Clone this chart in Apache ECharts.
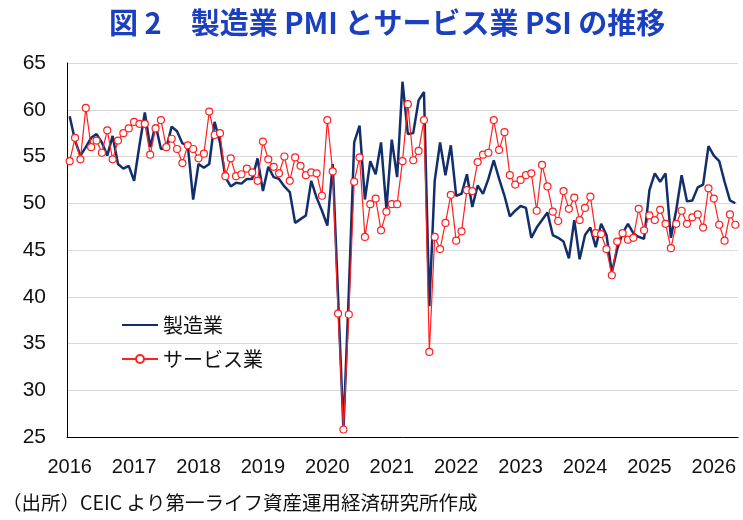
<!DOCTYPE html>
<html>
<head>
<meta charset="utf-8">
<script src="https://cdn.jsdelivr.net/npm/echarts@6/dist/echarts.min.js"></script>
<style>
  html, body { margin: 0; padding: 0; background: #fff; }
  #chart { width: 743px; height: 520px; }
</style>
</head>
<body>
<div id="chart"></div>
<script>
// monthly, 2016-01 .. 2026-05
const startYear = 2016;
const monthCount = 125;

const pmi = [
  59.3, 56.7, 55.1, 56.0, 57.0, 57.4, 56.5, 55.1, 57.2, 54.2, 53.7, 54.0,
  52.4, 56.2, 59.7, 56.0, 58.4, 55.8, 55.9, 58.2, 57.7, 56.4, 56.2, 50.4,
  54.2, 53.8, 54.2, 58.7, 56.5, 52.8, 51.8, 52.2, 52.1, 52.6, 52.6, 54.8,
  51.3, 53.9, 52.8, 52.6, 51.8, 51.2, 47.9, 48.3, 48.7, 52.4, 50.6, 49.2,
  47.6, 54.2, 40.0, 25.8, 40.5, 56.5, 58.3, 50.4, 54.5, 53.1, 56.5, 49.4,
  56.8, 52.8, 63.0, 57.4, 57.5, 61.0, 61.9, 39.0, 52.4, 56.5, 53.0, 56.2,
  50.8, 51.0, 53.1, 49.6, 51.9, 51.0, 52.6, 54.6, 52.6, 50.8, 48.6, 49.2,
  49.7, 49.5, 46.3, 47.4, 48.2, 49.0, 46.6, 46.3, 45.9, 44.1, 48.2, 44.0,
  46.6, 47.4, 45.3, 47.8, 46.6, 42.6, 45.1, 46.8, 47.8, 46.8, 46.4, 46.2,
  51.4, 53.2, 52.3, 53.2, 46.3, 49.3, 53.0, 50.2, 50.3, 51.7, 52.0, 56.1,
  55.1, 54.5, 52.3, 50.3, 50.0
];

const psi = [
  54.5, 57.0, 54.7, 60.2, 56.0, 56.7, 55.4, 57.8, 54.7, 56.7, 57.5, 58.0,
  58.7, 58.5, 58.5, 55.2, 58.0, 58.9, 56.0, 56.9, 55.8, 54.3, 56.2, 55.8,
  54.8, 55.3, 59.8, 57.3, 57.5, 52.9, 54.8, 52.9, 53.1, 53.7, 53.3, 52.4,
  56.6, 54.7, 53.9, 53.2, 55.0, 52.4, 54.9, 54.0, 53.0, 53.3, 53.2, 50.8,
  58.9, 53.4, 38.2, 25.8, 38.1, 52.3, 54.9, 46.4, 49.9, 50.5, 47.1, 49.1,
  49.9, 49.9, 54.5, 60.6, 54.6, 55.6, 58.9, 34.1, 46.4, 45.1, 47.9, 50.9,
  46.0, 47.0, 51.4, 51.3, 54.4, 55.2, 55.4, 58.9, 55.7, 57.6, 53.0, 52.0,
  52.5, 53.0, 53.2, 49.2, 54.1, 51.8, 49.1, 48.1, 51.3, 49.4, 50.6, 48.2,
  49.5, 50.7, 46.8, 46.7, 45.1, 42.3, 45.9, 46.8, 46.1, 46.3, 49.4, 47.1,
  48.7, 48.2, 49.3, 47.8, 45.2, 47.8, 49.2, 47.8, 48.5, 48.8, 47.4, 51.6,
  50.5, 47.7, 46.0, 48.8, 47.7
];

const months = [];
for (let i = 0; i < monthCount; i++) {
  const y = startYear + Math.floor(i / 12);
  const m = (i % 12) + 1;
  months.push(y + '-' + String(m).padStart(2, '0'));
}

const jp = '"Noto Sans CJK JP", "Noto Sans", sans-serif';
const num = '"Liberation Sans", Arial, sans-serif';
const isJan = (i) => i % 12 === 0;

const chart = echarts.init(document.getElementById('chart'));
chart.setOption({
  animation: false,
  title: {
    text: '図 2　製造業 PMI とサービス業 PSI の推移',
    left: 104,
    top: 3,
    textStyle: { color: '#1a3fbf', fontSize: 29, fontWeight: 'bold', fontFamily: jp }
  },
  graphic: [{
    type: 'text',
    left: 2,
    top: 493,
    style: { text: '（出所）CEIC より第一ライフ資産運用経済研究所作成', fill: '#111', font: '19.5px ' + jp }
  }],
  legend: {
    orient: 'vertical',
    left: 116,
    top: 310,
    itemWidth: 36,
    itemHeight: 10,
    itemGap: 14,
    textStyle: { fontSize: 20, color: '#111', fontFamily: jp },
    data: [
      { name: '製造業', itemStyle: { opacity: 0 } },
      { name: 'サービス業' }
    ]
  },
  grid: { left: 67, right: 5, top: 63, bottom: 83 },
  xAxis: {
    type: 'category',
    data: months,
    boundaryGap: true,
    axisLine: { lineStyle: { color: '#000', width: 1 } },
    axisTick: { inside: true, length: 8, interval: (i) => isJan(i), lineStyle: { color: '#000' } },
    axisLabel: {
      interval: (i) => isJan(i),
      formatter: (v) => v.slice(0, 4),
      margin: 20,
      fontSize: 20,
      color: '#111',
      fontFamily: num
    },
    splitLine: { show: false }
  },
  yAxis: {
    type: 'value',
    min: 25,
    max: 65,
    interval: 5,
    axisLine: { show: true, lineStyle: { color: '#000', width: 1 } },
    axisTick: { show: false },
    axisLabel: { fontSize: 21, color: '#111', margin: 21, fontFamily: num },
    splitLine: { lineStyle: { color: '#d9d9d9', width: 1 } }
  },
  series: [
    {
      name: '製造業',
      type: 'line',
      data: pmi,
      symbol: 'none',
      lineStyle: { color: '#132e6c', width: 2.5 },
      itemStyle: { color: '#132e6c' },
      z: 2
    },
    {
      name: 'サービス業',
      type: 'line',
      data: psi,
      symbol: 'circle',
      symbolSize: 7,
      showAllSymbol: true,
      lineStyle: { color: '#ff2020', width: 1.2 },
      itemStyle: { color: '#ffffff', borderColor: '#ff2020', borderWidth: 1.2 },
      z: 3
    }
  ]
});
</script>
</body>
</html>
